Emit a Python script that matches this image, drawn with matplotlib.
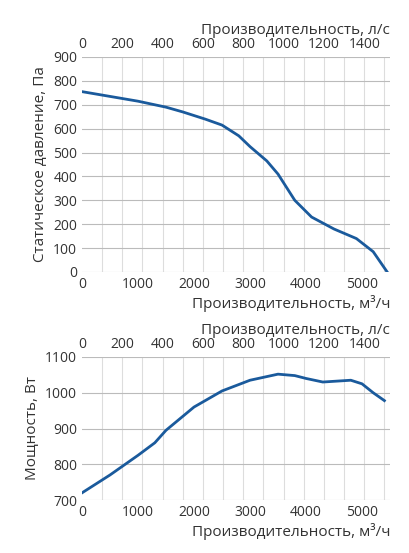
import matplotlib
matplotlib.use("Agg")
import matplotlib.pyplot as plt
import numpy as np

q1 = [0,500,1000,1500,1800,2200,2500,2800,3000,3300,3500,3800,4100,4500,4900,5200,5450]
p1 = [755,735,715,690,670,640,615,570,525,465,410,300,230,180,140,85,0]
q2 = [0,500,1000,1300,1500,2000,2500,3000,3500,3800,4000,4300,4800,5000,5200,5400]
n2 = [720,770,825,860,895,960,1005,1035,1052,1048,1040,1030,1035,1025,1000,978]

plt.rcParams['font.family'] = ['Open Sans', 'DejaVu Sans']
plt.rcParams['font.size'] = 10
tc = '#333333'
fig = plt.figure(figsize=(4.10,5.53), dpi=100)
ax1 = fig.add_axes([82/410, 1-272/553, 308/410, 215/553])
ax2 = fig.add_axes([82/410, 1-500/553, 308/410, 143/553])

def style(ax, y, x, ylim, yt, ylabel):
    ax.plot(x, y, color='#1a5a9c', lw=2)
    ax.set_xlim(0, 5500)
    ax.set_ylim(*ylim)
    ax.set_yticks(yt)
    ax.set_xticks(range(0, 5001, 1000))
    ax.set_xticks(np.arange(0,5500,360),minor=True)
    ax.grid(True, axis='y', color='#bbbbbb', lw=0.8)
    ax.grid(True, axis='x', which='minor', color='#dddddd', lw=0.8)
    for s in ax.spines.values(): s.set_visible(False)
    ax.tick_params(length=0, colors=tc, which='both')
    ax.set_ylabel(ylabel, color=tc, fontsize=11)
    ax.set_xlabel('Производительность, м³/ч', color=tc, fontsize=11, loc='right', labelpad=2)
    t = ax.twiny()
    t.set_xlim(0, 5500/3.6)
    t.set_xticks(range(0, 1401, 200))
    t.tick_params(length=0, colors=tc)
    for s in t.spines.values(): s.set_visible(False)
    t.set_xlabel('Производительность, л/с', color=tc, fontsize=11, loc='right', labelpad=2)

style(ax1, p1, q1, (0,900), range(0,901,100), 'Статическое давление, Па')
style(ax2, n2, q2, (700,1100), range(700,1101,100), 'Мощность, Вт')
fig.savefig('out.png', dpi=100)
